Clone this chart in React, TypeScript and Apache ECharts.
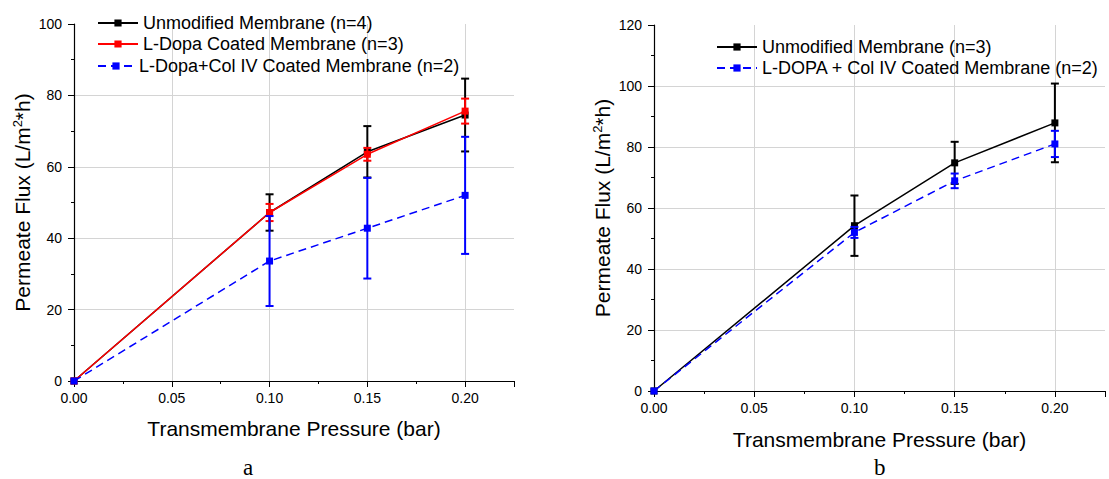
import React, { useEffect, useRef } from "react";
import * as echarts from "echarts";

// ---- Data ----
const pressure = [0, 0.1, 0.15, 0.2];
const errX = [0.1, 0.15, 0.2];

// Chart a
const aUnmodName = "Unmodified Membrane (n=4)";
const aUnmod = [0, 47.2, 64.2, 74.5];
const aUnmodErr = [5.1, 7.2, 10.2];
const aDopaName = "L-Dopa Coated Membrane (n=3)";
const aDopa = [0, 47.2, 63.5, 75.6];
const aDopaErr = [2.4, 1.8, 3.5];
const aColName = "L-Dopa+Col IV Coated Membrane (n=2)";
const aCol = [0, 33.6, 42.8, 52.0];
const aColErr = [12.6, 14.1, 16.4];

// Chart b
const bUnmodName = "Unmodified Membrane (n=3)";
const bUnmod = [0, 54.2, 74.8, 87.9];
const bUnmodErr = [9.9, 6.9, 12.9];
const bColName = "L-DOPA + Col IV Coated Membrane (n=2)";
const bCol = [0, 52.0, 68.9, 81.0];
const bColErr = [1.8, 2.4, 4.3];

const xTicks = [0, 0.05, 0.1, 0.15, 0.2];

const FONT = "'Liberation Sans', Arial, sans-serif";
const SERIF = "'Liberation Serif', 'Times New Roman', serif";
const GRID_COLOR = "#d4d4d4";

function lineSeries(name: string, ys: number[], color: string, idx: number, dashed: boolean, z: number) {
  return {
    type: "line",
    name,
    xAxisIndex: idx,
    yAxisIndex: idx,
    data: pressure.map((x, i) => [x, ys[i]]),
    symbol: "rect",
    symbolSize: 7,
    z,
    lineStyle: { color, width: 1.5, type: dashed ? [8, 5] : "solid" },
    itemStyle: { color },
    emphasis: { disabled: true },
  };
}

function errSeries(ys: number[], errs: number[], color: string, idx: number, z: number) {
  const data = errX.map((x, i) => {
    const y = ys[pressure.indexOf(x)];
    return [x, y - errs[i], y + errs[i]];
  });
  return {
    type: "custom",
    xAxisIndex: idx,
    yAxisIndex: idx,
    z,
    silent: true,
    data,
    encode: { x: 0, y: [1, 2] },
    renderItem: (_p: any, api: any) => {
      const lo = api.coord([api.value(0), api.value(1)]);
      const hi = api.coord([api.value(0), api.value(2)]);
      const w = 4;
      const style = { stroke: color, lineWidth: 2 };
      return {
        type: "group",
        children: [
          { type: "line", shape: { x1: lo[0], y1: lo[1], x2: hi[0], y2: hi[1] }, style },
          { type: "line", shape: { x1: lo[0] - w, y1: lo[1], x2: lo[0] + w, y2: lo[1] }, style },
          { type: "line", shape: { x1: hi[0] - w, y1: hi[1], x2: hi[0] + w, y2: hi[1] }, style },
        ],
      };
    },
  };
}

function xAxis(idx: number, nameGap: number) {
  return {
    type: "value",
    gridIndex: idx,
    min: 0,
    max: 0.225,
    interval: 0.05,
    name: "Transmembrane Pressure (bar)",
    nameLocation: "middle",
    nameGap,
    nameTextStyle: { fontFamily: FONT, fontSize: 21, color: "#000" },
    axisLine: { lineStyle: { color: "#000", width: 1.2 } },
    axisTick: { show: true, inside: false, length: 6, lineStyle: { color: "#000" } },
    minorTick: { show: true, splitNumber: 2, length: 3, lineStyle: { color: "#000" } },
    axisLabel: {
      fontFamily: FONT,
      fontSize: 14,
      color: "#000",
      margin: 10,
      formatter: (v: number) => (xTicks.some((t) => Math.abs(t - v) < 1e-9) ? v.toFixed(2) : ""),
    },
    splitLine: {
      show: true,
      lineStyle: { color: [GRID_COLOR, GRID_COLOR, GRID_COLOR, GRID_COLOR, GRID_COLOR, "rgba(0,0,0,0)"], width: 1 },
    },
  };
}

function yAxis(idx: number, max: number, nameGap: number) {
  const n = max / 20 + 1;
  const colors: string[] = [];
  for (let i = 0; i < n; i++) colors.push(i === n - 1 ? "rgba(0,0,0,0)" : GRID_COLOR);
  return {
    type: "value",
    gridIndex: idx,
    min: 0,
    max,
    interval: 20,
    name: "Permeate Flux (L/m{sup|2}*h)",
    nameLocation: "middle",
    nameGap,
    nameTextStyle: {
      fontFamily: FONT,
      fontSize: 21,
      color: "#000",
      rich: {
        sup: { fontFamily: FONT, fontSize: 13, color: "#000", padding: [0, 0, 10, 0] },
      },
    },
    axisLine: { show: true, lineStyle: { color: "#000", width: 1.2 } },
    axisTick: { show: true, inside: false, length: 6, lineStyle: { color: "#000" } },
    minorTick: { show: true, splitNumber: 2, length: 3, lineStyle: { color: "#000" } },
    axisLabel: { fontFamily: FONT, fontSize: 14, color: "#000", margin: 12 },
    splitLine: { show: true, lineStyle: { color: colors, width: 1 } },
  };
}

export default function App() {
  const ref = useRef<HTMLDivElement>(null);
  useEffect(() => {
    if (!ref.current) return;
    const chart = echarts.init(ref.current, undefined, { renderer: "svg" });
    const legendCommon = {
      orient: "vertical",
      itemWidth: 40,
      itemHeight: 9,
      itemGap: 3,
      padding: 0,
      textStyle: { fontFamily: FONT, fontSize: 18, lineHeight: 18, color: "#000" },
      selectedMode: false,
    };
    chart.setOption({
      animation: false,
      backgroundColor: "#fff",
      grid: [
        { left: 74, top: 24, width: 440, height: 357 },
        { left: 654, top: 25, width: 451, height: 366 },
      ],
      xAxis: [xAxis(0, 37), xAxis(1, 38)],
      yAxis: [yAxis(0, 100, 40), yAxis(1, 120, 40)],
      legend: [
        { ...legendCommon, left: 97, top: 14, data: [aUnmodName, aDopaName] },
        { ...legendCommon, itemWidth: 36, left: 97, top: 57, data: [aColName] },
        { ...legendCommon, left: 716, top: 38, data: [bUnmodName, bColName] },
      ],
      series: [
        errSeries(aUnmod, aUnmodErr, "#000", 0, 2),
        lineSeries(aUnmodName, aUnmod, "#000", 0, false, 3),
        errSeries(aDopa, aDopaErr, "#ff0000", 0, 4),
        lineSeries(aDopaName, aDopa, "#ff0000", 0, false, 5),
        errSeries(aCol, aColErr, "#0000ff", 0, 6),
        lineSeries(aColName, aCol, "#0000ff", 0, true, 7),
        errSeries(bUnmod, bUnmodErr, "#000", 1, 2),
        lineSeries(bUnmodName, bUnmod, "#000", 1, false, 3),
        errSeries(bCol, bColErr, "#0000ff", 1, 6),
        lineSeries(bColName, bCol, "#0000ff", 1, true, 7),
      ],
      graphic: [
        {
          type: "text",
          left: 243,
          top: 456,
          style: { text: "a", fontFamily: SERIF, fontSize: 23, fill: "#000" },
        },
        {
          type: "text",
          left: 874,
          top: 456,
          style: { text: "b", fontFamily: SERIF, fontSize: 23, fill: "#000" },
        },
      ],
    });
    return () => chart.dispose();
  }, []);
  return (
    <div
      ref={ref}
      style={{ position: "fixed", left: 0, top: 0, width: 1109, height: 479, background: "#fff" }}
    />
  );
}
